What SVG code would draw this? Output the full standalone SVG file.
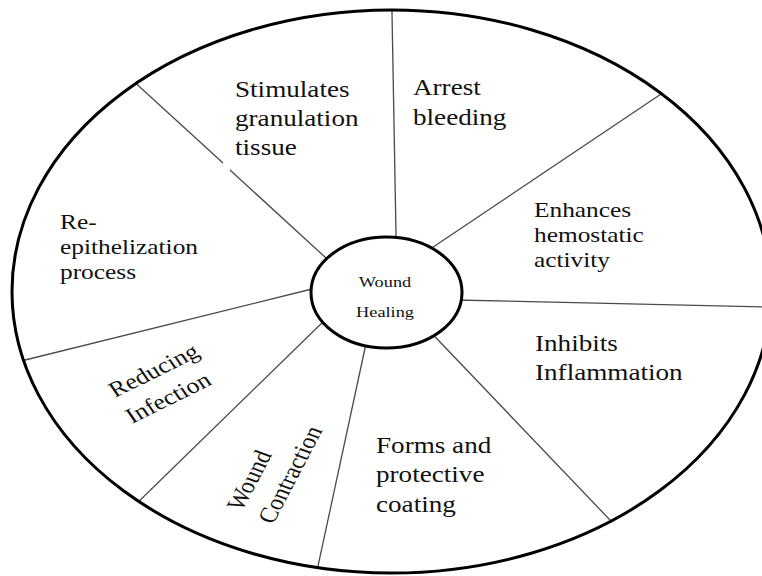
<svg xmlns="http://www.w3.org/2000/svg" width="762" height="576" viewBox="0 0 762 576">
  <style>
    .lbl { font-family: "Liberation Serif", "Times New Roman", serif; fill: #111; }
    .big { font-size: 23px; }
    .mid { font-size: 21.5px; }
    .rot { font-size: 22px; }
    .hub { font-size: 15.5px; text-anchor: middle; }
    .spoke { stroke: #4a4a4a; stroke-width: 1.3; fill: none; }
    .ring { fill: none; stroke: #000; stroke-width: 3; }
  </style>
  <defs>
    <clipPath id="wheel">
      <ellipse cx="391.5" cy="291.5" rx="379.5" ry="281.5"/>
    </clipPath>
  </defs>
  <rect width="762" height="576" fill="#fff"/>

  <!-- dividing spokes, trimmed to the outer ring -->
  <g id="connectors" clip-path="url(#wheel)">
    <line class="spoke" x1="396.2" y1="245" x2="391.8" y2="2"/>
    <line class="spoke" x1="425" y1="252.5" x2="670" y2="88"/>
    <line class="spoke" x1="455" y1="300" x2="780" y2="307.2"/>
    <line class="spoke" x1="430" y1="331.5" x2="620" y2="530.5"/>
    <line class="spoke" x1="367" y1="339" x2="315" y2="580"/>
    <line class="spoke" x1="327" y1="318" x2="130" y2="510"/>
    <line class="spoke" x1="316" y1="288" x2="15" y2="362.5"/>
    <line class="spoke" x1="332" y1="263.5" x2="230" y2="170"/>
    <line class="spoke" x1="223" y1="163" x2="130" y2="78"/>
  </g>

  <ellipse id="outer-ring" class="ring" cx="391.5" cy="291.5" rx="379.5" ry="281.5"/>

  <g id="hub">
    <ellipse cx="386.5" cy="292.5" rx="75.5" ry="55.5" fill="#fff" stroke="#000" stroke-width="3"/>
    <text class="lbl hub" transform="translate(385 287) scale(1.18 1)">Wound</text>
    <text class="lbl hub" transform="translate(385 317) scale(1.18 1)">Healing</text>
  </g>

  <g id="stimulates">
    <text class="lbl big" transform="translate(235 97) scale(1.18 1)">
      <tspan x="0" y="0">Stimulates</tspan>
      <tspan x="0" y="29">granulation</tspan>
      <tspan x="0" y="58">tissue</tspan>
    </text>
  </g>

  <g id="arrest">
    <text class="lbl big" transform="translate(413 95) scale(1.18 1)">
      <tspan x="0" y="0">Arrest</tspan>
      <tspan x="0" y="30">bleeding</tspan>
    </text>
  </g>

  <g id="enhances">
    <text class="lbl mid" transform="translate(534 217) scale(1.18 1)">
      <tspan x="0" y="0">Enhances</tspan>
      <tspan x="0" y="25">hemostatic</tspan>
      <tspan x="0" y="50">activity</tspan>
    </text>
  </g>

  <g id="inhibits">
    <text class="lbl big" transform="translate(535 351) scale(1.18 1)">
      <tspan x="0" y="0">Inhibits</tspan>
      <tspan x="0" y="29">Inflammation</tspan>
    </text>
  </g>

  <g id="forms">
    <text class="lbl big" transform="translate(376 453) scale(1.18 1)">
      <tspan x="0" y="0">Forms and</tspan>
      <tspan x="0" y="29.5">protective</tspan>
      <tspan x="0" y="59">coating</tspan>
    </text>
  </g>

  <g id="contraction">
    <text class="lbl rot" transform="translate(242 512) scale(1.18 1) rotate(-66)">Wound</text>
    <text class="lbl rot" transform="translate(273 525) scale(1.18 1) rotate(-66)">Contraction</text>
  </g>

  <g id="infection">
    <text class="lbl rot" transform="translate(115 398) scale(1.18 1) rotate(-30.3)">Reducing</text>
    <text class="lbl rot" transform="translate(132 424) scale(1.18 1) rotate(-30.3)">Infection</text>
  </g>

  <g id="epithelization">
    <text class="lbl mid" transform="translate(60 229) scale(1.18 1)">
      <tspan x="0" y="0">Re-</tspan>
      <tspan x="0" y="25">epithelization</tspan>
      <tspan x="0" y="50">process</tspan>
    </text>
  </g>
</svg>
